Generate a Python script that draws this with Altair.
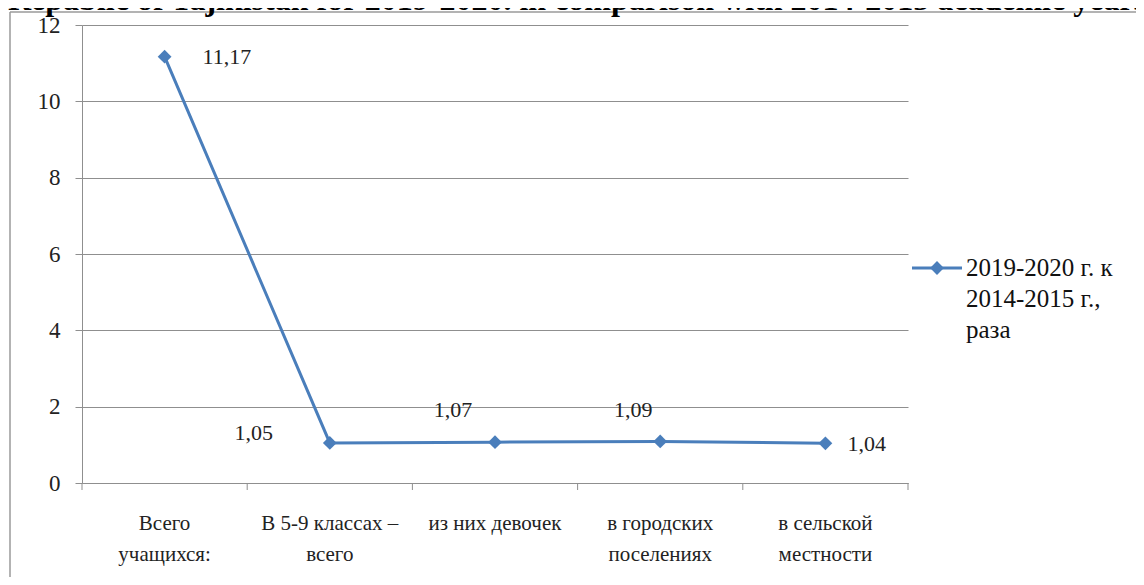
import altair as alt
import pandas as pd

TITLE = "Repablic of Tajikistan for 2019-2020. in comparison with 2014-2015 academic years."
CATEGORIES = ["Всего|учащихся:", "В 5-9 классах –|всего", "из них девочек",
              "в городских|поселениях", "в сельской|местности"]
VALUES = [11.17, 1.05, 1.07, 1.09, 1.04]
SERIES_LINES = ["2019-2020 г. к", "2014-2015 г.,", "раза"]
Y_TICKS = [0, 2, 4, 6, 8, 10, 12]

BLUE = "#4A7EBB"
GRID = "#8f8f8f"
SERIF = "Liberation Serif"
W, H = 826, 458

df = pd.DataFrame({"cat": CATEGORIES, "v": VALUES, "i": list(range(len(VALUES)))})

xscale = alt.Scale(type="band", domain=CATEGORIES, paddingInner=0, paddingOuter=0)
yscale = alt.Scale(domain=[0, 12], nice=False, zero=True)

base = alt.Chart(df)

line = base.mark_line(color=BLUE, strokeWidth=3).encode(
    x=alt.X("cat:N", scale=xscale, sort=CATEGORIES, bandPosition=0.5,
            axis=alt.Axis(title=None, labelAngle=0, ticks=False, domainColor=GRID,
                          labelExpr="split(datum.label, '|')", labelFont=SERIF,
                          labelFontSize=21, labelLineHeight=31, labelColor="#222",
                          labelPadding=29, labelLimit=400)),
    y=alt.Y("v:Q", scale=yscale,
            axis=alt.Axis(title=None, values=Y_TICKS, grid=True, gridColor=GRID,
                          domainColor=GRID, tickColor=GRID, tickSize=7,
                          labelFont=SERIF, labelFontSize=23, labelColor="#222",
                          labelPadding=15)),
)

pts = base.mark_point(shape="diamond", filled=True, opacity=1, size=190, color=BLUE).encode(
    x=alt.X("cat:N", scale=xscale, sort=CATEGORIES, bandPosition=0.5),
    y=alt.Y("v:Q", scale=yscale),
)

# x-axis ticks at category boundaries
xticks = base.mark_rule(color=GRID, strokeWidth=1).encode(
    x=alt.X("cat:N", scale=xscale, sort=CATEGORIES, bandPosition=0),
    y=alt.value(H), y2=alt.value(H + 7),
)
xtick_end = alt.Chart(pd.DataFrame({"a": [0]})).mark_rule(color=GRID, strokeWidth=1).encode(
    x=alt.value(W), y=alt.value(H), y2=alt.value(H + 7))

# value labels with individual placements
LABEL_STYLE = [
    dict(dx=38, dy=0, align="left"),
    dict(dx=-76, dy=-10, align="center"),
    dict(dx=-42, dy=-32, align="center"),
    dict(dx=-27, dy=-31, align="center"),
    dict(dx=22, dy=1, align="left"),
]
label_layers = []
for i, st in enumerate(LABEL_STYLE):
    label_layers.append(
        base.transform_filter(alt.datum.i == i)
        .transform_calculate(lab="replace(format(datum.v, '.2f'), '.', ',')")
        .mark_text(font=SERIF, fontSize=22, color="#222", baseline="middle", **st)
        .encode(x=alt.X("cat:N", scale=xscale, sort=CATEGORIES, bandPosition=0.5),
                y=alt.Y("v:Q", scale=yscale), text="lab:N")
    )

one = alt.Chart(pd.DataFrame({"a": [0]}))

# legend
leg_line = one.mark_rule(color=BLUE, strokeWidth=3).encode(
    x=alt.value(830), x2=alt.value(880), y=alt.value(243))
leg_pt = one.mark_point(shape="diamond", filled=True, opacity=1, size=190, color=BLUE).encode(
    x=alt.value(855), y=alt.value(243))
leg_txt = one.mark_text(font=SERIF, fontSize=25, color="#111", align="left",
                        baseline="alphabetic", lineHeight=31).encode(
    x=alt.value(884), y=alt.value(251), text=alt.value(SERIES_LINES))

# outer frame
frame_left = one.mark_rule(color="#9a9a9a", strokeWidth=1.5).encode(
    x=alt.value(-72), y=alt.value(-13), y2=alt.value(555))
frame_top = one.mark_rule(color="#9a9a9a", strokeWidth=1.5).encode(
    x=alt.value(-72), x2=alt.value(1060), y=alt.value(-13))

# title (partly cut off at the top, as in the source)
title = one.mark_text(font=SERIF, fontSize=32, fontWeight="bold", color="#000",
                      align="left", baseline="alphabetic").encode(
    x=alt.value(-74), y=alt.value(-15), text=alt.value(TITLE))

chart = alt.layer(
    frame_left, frame_top, line, xticks, xtick_end, pts, *label_layers,
    leg_line, leg_pt, leg_txt, title
).properties(
    width=W, height=H,
    autosize=alt.AutoSizeParams(type="none"),
    padding={"left": 74, "top": 17, "right": 228, "bottom": 94},
).configure_view(stroke=None).configure_axis(labelOverlap=False)

chart.save("out.html", embed_options={"renderer": "svg", "actions": False})
